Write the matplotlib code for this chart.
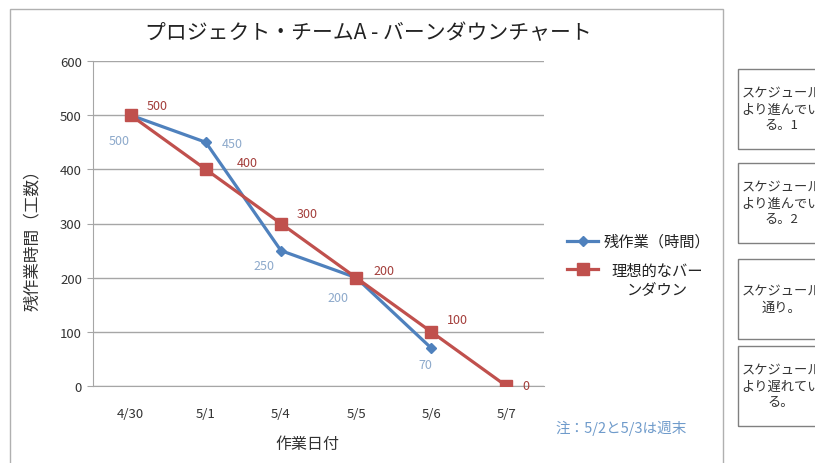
import matplotlib
matplotlib.use("Agg")
import matplotlib.pyplot as plt
from matplotlib.patches import Rectangle
from matplotlib.lines import Line2D

plt.rcParams["font.family"] = ["Noto Sans CJK JP", "DejaVu Sans"]

# data
dates = ["4/30", "5/1", "5/4", "5/5", "5/6", "5/7"]
remaining = [500, 450, 250, 200, 70]
ideal = [500, 400, 300, 200, 100, 0]

remaining_label = "残作業（時間）"
ideal_label = "理想的なバー\nンダウン"
title = "プロジェクト・チームA - バーンダウンチャート"
note = "注：5/2と5/3は週末"
status_boxes = [
    "スケジュール\nより進んでい\nる。1",
    "スケジュール\nより進んでい\nる。2",
    "スケジュール\n通り。",
    "スケジュール\nより遅れてい\nる。",
]

# label offsets (points) for each data label
remaining_offsets = [(-8, -18), (19, -1), (-12, -11), (-13, -14), (-4, -12)]
ideal_offsets = [(19, 7), (30, 5), (19, 7), (20, 5), (19, 9), (14, 0)]

BLUE = "#4F81BD"
RED = "#C0504D"
BLUE_LBL = "#8DA9CB"
RED_LBL = "#A33D3A"
GRID = "#A6A6A6"
W, H = 815, 464


def fx(px):
    return px / W


def fy(py):
    return 1 - py / H


fig = plt.figure(figsize=(8.15, 4.64), dpi=100)
fig.patch.set_facecolor("white")

# chart area border
fig.add_artist(Rectangle((fx(10), fy(475)), fx(713), (475 - 10) / H,
                         transform=fig.transFigure, fill=False,
                         edgecolor="#B0B0B0", linewidth=1))

ax = fig.add_axes([fx(93), fy(387), fx(451), (387 - 62) / H])
x = list(range(len(dates)))

ax.plot(x[:len(remaining)], remaining, color=BLUE, linewidth=2.3,
        marker="D", markersize=5.5, zorder=3)
ax.plot(x, ideal, color=RED, linewidth=2.3, marker="s", markersize=8.5, zorder=4)

for xi, v, off in zip(x, remaining, remaining_offsets):
    ax.annotate(str(v), (xi, v), xytext=off, textcoords="offset points",
                ha="center", va="center", fontsize=9, color=BLUE_LBL)
for xi, v, off in zip(x, ideal, ideal_offsets):
    ax.annotate(str(v), (xi, v), xytext=off, textcoords="offset points",
                ha="center", va="center", fontsize=9, color=RED_LBL)

ax.set_xlim(-0.5, len(dates) - 0.5)
ax.set_ylim(0, 600)
ax.set_yticks(range(0, 601, 100))
ax.set_xticks(x)
ax.set_xticklabels(dates)
ax.yaxis.grid(True, color=GRID, linewidth=1)
ax.set_axisbelow(True)
for side in ["top", "right"]:
    ax.spines[side].set_visible(False)
for side in ["left", "bottom"]:
    ax.spines[side].set_color(GRID)
ax.tick_params(axis="y", length=4, color=GRID, labelsize=9.5, labelcolor="#333333", pad=4)
ax.tick_params(axis="x", length=0, labelsize=9.5, labelcolor="#333333", pad=15)

fig.text(fx(368), fy(33), title, ha="center", va="center", fontsize=15, color="#222222")
fig.text(fx(33), fy(236), "残作業時間（工数）", ha="center", va="center",
         rotation=90, fontsize=12, color="#333333")
fig.text(fx(307), fy(445), "作業日付", ha="center", va="center", fontsize=11.5, color="#333333")
fig.text(fx(621), fy(428), note, ha="center", va="center", fontsize=10.5, color="#6F9BCB")

# legend
fig.add_artist(Line2D([fx(567), fx(598)], [fy(242), fy(242)], color=BLUE, linewidth=2.3,
                      transform=fig.transFigure))
fig.add_artist(Line2D([fx(582.5)], [fy(242)], color=BLUE, marker="D", markersize=5.5,
                      transform=fig.transFigure))
fig.text(fx(604), fy(242), remaining_label, ha="left", va="center", fontsize=11, color="#222222")
fig.add_artist(Line2D([fx(567), fx(598)], [fy(270), fy(270)], color=RED, linewidth=2.3,
                      transform=fig.transFigure))
fig.add_artist(Line2D([fx(582.5)], [fy(270)], color=RED, marker="s", markersize=8.5,
                      transform=fig.transFigure))
fig.text(fx(657), fy(280), ideal_label, ha="center", va="center", fontsize=11,
         color="#222222", multialignment="center", linespacing=1.1)

# status boxes on the right (cut off by the picture edge, as in the source)
box_tops = [70, 164, 260, 347]
for top, txt in zip(box_tops, status_boxes):
    fig.add_artist(Rectangle((fx(738), fy(top + 80)), fx(100), 80 / H,
                             transform=fig.transFigure, fill=False,
                             edgecolor="#808080", linewidth=1))
    fig.text(fx(781), fy(top + 40), txt, ha="center", va="center", fontsize=9.5,
             color="#333333", multialignment="center", linespacing=1.3)

fig.savefig("out.png", dpi=100)
